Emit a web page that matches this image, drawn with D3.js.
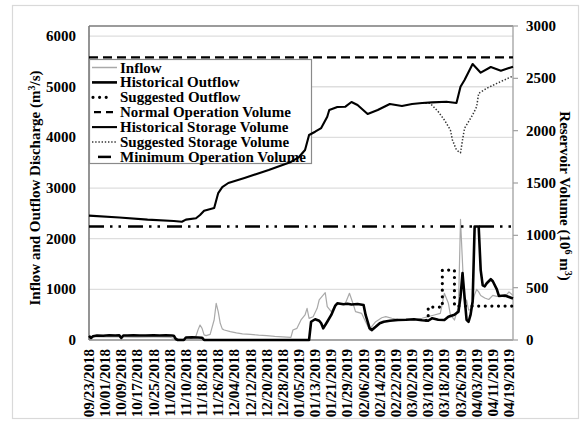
<!DOCTYPE html>
<html>
<head>
<meta charset="utf-8">
<script src="https://cdn.jsdelivr.net/npm/d3@7"></script>
<style>
  html, body { margin: 0; padding: 0; background: #fff; }
  svg { display: block; }
  text { font-family: "Liberation Serif", "Times New Roman", serif; font-weight: bold; fill: #000; }
</style>
</head>
<body>
<svg id="chart" width="585" height="423"></svg>
<script>
// ---- data: [day offset from 09/23/2018, value] ----
const startDate = new Date(2018, 8, 23);
const endDay = 210;

const dateLabels = ["09/23/2018","10/01/2018","10/09/2018","10/17/2018","10/25/2018","11/02/2018",
  "11/10/2018","11/18/2018","11/26/2018","12/04/2018","12/12/2018","12/20/2018","12/28/2018",
  "01/05/2019","01/13/2019","01/21/2019","01/29/2019","02/06/2019","02/14/2019","02/22/2019",
  "03/02/2019","03/10/2019","03/18/2019","03/26/2019","04/03/2019","04/11/2019","04/19/2019"];

const dischargeTicks = [0, 1000, 2000, 3000, 4000, 5000, 6000];
const volumeTicks = [0, 500, 1000, 1500, 2000, 2500, 3000];

// discharge, m3/s
const inflow = [[0,65],[8,60],[16,62],[24,58],[32,60],[40,55],[43,25],[46,15],[50,20],[53,80],[54,200],
  [55,296],[56,230],[57,100],[58,86],[60,110],[62,400],[63,724],[64,560],[65,330],[66,220],[67,197],
  [70,164],[73,140],[76,120],[80,110],[84,95],[88,85],[92,70],[96,60],[100,53],[101,197],[103,230],
  [105,395],[107,494],[108,625],[109,428],[111,460],[113,625],[114,790],[117,934],[118,658],[120,559],
  [122,691],[124,711],[127,724],[129,922],[131,691],[132,559],[135,527],[137,362],[139,197],[140,263],
  [142,362],[145,440],[147,461],[150,430],[153,408],[157,400],[161,395],[165,430],[168,461],[171,494],
  [174,527],[176,922],[178,724],[179,494],[181,395],[183,658],[184,2380],[185,1514],[186,658],[187,790],
  [188,592],[189,600],[190,700],[191,900],[192,1000],[193,950],[194,880],[196,830],[198,800],[200,880],
  [202,860],[204,870],[206,850],[208,950],[210,880]];

const historicalOutflow = [[0,80],[1,40],[2,75],[4,90],[7,85],[10,95],[13,88],[15,92],[16,40],[17,90],
  [19,88],[22,92],[25,88],[28,90],[32,92],[35,88],[38,92],[41,88],[42,85],[43,20],[44,0],[47,0],[48,50],
  [51,55],[54,50],[56,45],[57,0],[109,0],[110,360],[112,410],[114,380],[115,330],[116,230],[118,360],
  [120,495],[122,680],[123,725],[126,705],[128,715],[130,700],[133,710],[136,690],[137,495],[139,230],
  [140,195],[142,260],[144,330],[146,360],[149,380],[153,395],[157,400],[161,410],[165,390],[168,380],
  [170,430],[173,400],[176,395],[178,460],[181,500],[183,560],[184,850],[185,1320],[186,850],[187,400],
  [188,360],[189,500],[190,760],[191,2240],[193,2240],[194,1380],[195,1080],[196,1060],[197,1120],
  [199,1200],[200,1160],[202,1000],[203,870],[206,880],[208,850],[210,820]];

// release schedule (held constant until the next entry)
const suggestedOutflow = [[167,390],[168,650],[175,1380],[181,670],[210,670]];

// storage, 10^6 m3
const historicalStorage = [[0,1188],[15,1170],[29,1150],[42,1137],[46,1130],[48,1150],[53,1163],
  [55,1194],[57,1235],[62,1261],[64,1404],[66,1460],[69,1500],[77,1548],[89,1624],[100,1701],
  [104,1748],[107,1815],[109,1959],[112,1990],[115,2025],[118,2133],[119,2197],[123,2226],[127,2229],
  [130,2274],[133,2245],[138,2159],[143,2197],[149,2255],[155,2236],[160,2255],[165,2264],[170,2270],
  [177,2277],[182,2264],[184,2420],[186,2484],[190,2637],[194,2554],[199,2608],[204,2573],[210,2611]];

const suggestedStorage = [[165,2264],[169,2261],[173,2181],[176,2102],[179,2006],[180,1911],[182,1815],
  [184,1789],[185,1911],[186,2023],[188,2086],[190,2150],[192,2229],[193,2357],[197,2405],[202,2452],
  [210,2522]];

const normalVolume = 2700;
const minimumVolume = 1085;

// ---- layout ----
const svg = d3.select("#chart");
const plot = { left: 89, right: 513, top: 26, bottom: 340 };
const toDate = d => d3.timeDay.offset(startDate, d);
const parseLabel = d3.timeParse("%m/%d/%Y");

const x = d3.scaleTime().domain([startDate, toDate(endDay)]).range([plot.left, plot.right]);
const yQ = d3.scaleLinear().domain([0, 6200]).range([plot.bottom, plot.top]);
const yV = d3.scaleLinear().domain([0, 3000]).range([plot.bottom, plot.top]);

// outer frame
svg.append("rect").attr("x", 12.5).attr("y", 5.5).attr("width", 566).attr("height", 413)
  .attr("fill", "#fff").attr("stroke", "#d9d9d9").attr("stroke-width", 1.2);

// gridlines
svg.append("g").selectAll("line").data(dischargeTicks.filter(t => t > 0)).join("line")
  .attr("x1", plot.left).attr("x2", plot.right)
  .attr("y1", d => yQ(d)).attr("y2", d => yQ(d))
  .attr("stroke", "#dedede").attr("stroke-width", 1.3);

// plot border
svg.append("line").attr("x1", plot.left).attr("x2", plot.right).attr("y1", plot.top).attr("y2", plot.top)
  .attr("stroke", "#7a7a7a").attr("stroke-width", 1.3);
svg.append("line").attr("x1", plot.right).attr("x2", plot.right).attr("y1", plot.top).attr("y2", plot.bottom)
  .attr("stroke", "#a0a0a0").attr("stroke-width", 1.3);
svg.append("line").attr("x1", plot.left).attr("x2", plot.right).attr("y1", plot.bottom).attr("y2", plot.bottom)
  .attr("stroke", "#a8a8a8").attr("stroke-width", 1.8);
svg.append("line").attr("x1", plot.left).attr("x2", plot.left).attr("y1", plot.top).attr("y2", plot.bottom)
  .attr("stroke", "#7a7a7a").attr("stroke-width", 1.6);

// left axis labels
svg.append("g").selectAll("text").data(dischargeTicks).join("text")
  .attr("x", 76).attr("y", d => yQ(d) + 5).attr("text-anchor", "end")
  .style("font-size", "15px").text(d => d);

// right axis ticks and labels
svg.append("g").selectAll("line").data(volumeTicks).join("line")
  .attr("x1", plot.right).attr("x2", plot.right + 5)
  .attr("y1", d => yV(d)).attr("y2", d => yV(d))
  .attr("stroke", "#a0a0a0").attr("stroke-width", 1.2);
svg.append("g").selectAll("text").data(volumeTicks).join("text")
  .attr("x", 526).attr("y", d => yV(d) + 5).attr("text-anchor", "start")
  .style("font-size", "15px").text(d => d);

// date labels
svg.append("g").selectAll("text").data(dateLabels).join("text")
  .attr("transform", d => `translate(${x(parseLabel(d)) + 5},349) rotate(-90)`)
  .attr("text-anchor", "end").style("font-size", "15px").text(d => d);

// axis titles
const lt = svg.append("text").attr("transform", "translate(40,188) rotate(-90)")
  .attr("text-anchor", "middle").style("font-size", "15px");
lt.append("tspan").text("Inflow and Outflow Discharge (m");
lt.append("tspan").attr("dy", -5).style("font-size", "10px").text("3");
lt.append("tspan").attr("dy", 5).text("/s)");

const rt = svg.append("text").attr("transform", "translate(560,196) rotate(90)")
  .attr("text-anchor", "middle").style("font-size", "15px");
rt.append("tspan").text("Reservoir Volume (10");
rt.append("tspan").attr("dy", -5).style("font-size", "10px").text("6");
rt.append("tspan").attr("dy", 5).text(" m");
rt.append("tspan").attr("dy", -5).style("font-size", "10px").text("3");
rt.append("tspan").attr("dy", 5).text(")");

// series styles
const styles = {
  inflow:   { stroke: "#a9a9a9", width: 1.2, dash: null, cap: "butt" },
  histOut:  { stroke: "#000", width: 2.6, dash: null, cap: "butt" },
  sugOut:   { stroke: "#000", width: 3.2, dash: "0,6.6", cap: "round" },
  normal:   { stroke: "#000", width: 2.3, dash: "9,5", cap: "butt" },
  histVol:  { stroke: "#000", width: 2.1, dash: null, cap: "butt" },
  sugVol:   { stroke: "#333", width: 1.5, dash: "1.4,1.8", cap: "butt" },
  minimum:  { stroke: "#000", width: 2.5, dash: "15,6,2.5,6,2.5,7", cap: "butt" }
};

// legend
const legendItems = [
  ["Inflow", "inflow"], ["Historical Outflow", "histOut"], ["Suggested Outflow", "sugOut"],
  ["Normal Operation Volume", "normal"], ["Historical Storage Volume", "histVol"],
  ["Suggested Storage Volume", "sugVol"], ["Minimum Operation Volume", "minimum"]
];
const lg = svg.append("g");
lg.append("rect").attr("x", 89.5).attr("y", 59.5).attr("width", 222).attr("height", 104)
  .attr("fill", "#fff").attr("stroke", "#8a8a8a").attr("stroke-width", 1.2);
legendItems.forEach(([label, key], i) => {
  const cy = 67.5 + i * 14.9;
  const s = styles[key];
  let x1 = 92, x2 = 117;
  if (key === "sugOut") { x1 = 93; x2 = 108; }
  if (key === "normal") { x1 = 94; x2 = 117; }
  if (key === "minimum") { x1 = 98; x2 = 111; }
  lg.append("line").attr("x1", x1).attr("x2", x2).attr("y1", cy).attr("y2", cy)
    .attr("stroke", s.stroke).attr("stroke-width", key === "inflow" ? 1.5 : s.width)
    .attr("stroke-dasharray", key === "minimum" ? null : (key === "normal" ? "7,5" : s.dash))
    .attr("stroke-linecap", s.cap);
  lg.append("text").attr("x", 120).attr("y", cy + 5).style("font-size", "15px").text(label);
});

// data lines
function drawLine(data, yScale, key, curve) {
  const s = styles[key];
  const gen = d3.line().x(d => x(toDate(d[0]))).y(d => yScale(d[1])).curve(curve || d3.curveLinear);
  svg.append("path").datum(data).attr("d", gen)
    .attr("fill", "none").attr("stroke", s.stroke).attr("stroke-width", s.width)
    .attr("stroke-dasharray", s.dash).attr("stroke-linecap", s.cap).attr("stroke-linejoin", "round");
}

drawLine(inflow, yQ, "inflow");
drawLine([[0, minimumVolume], [endDay, minimumVolume]], yV, "minimum");
drawLine([[0, normalVolume], [endDay, normalVolume]], yV, "normal");
drawLine(suggestedStorage, yV, "sugVol");
drawLine(historicalStorage, yV, "histVol");
drawLine(historicalOutflow, yQ, "histOut");
drawLine(suggestedOutflow, yQ, "sugOut", d3.curveStepAfter);
</script>
</body>
</html>
